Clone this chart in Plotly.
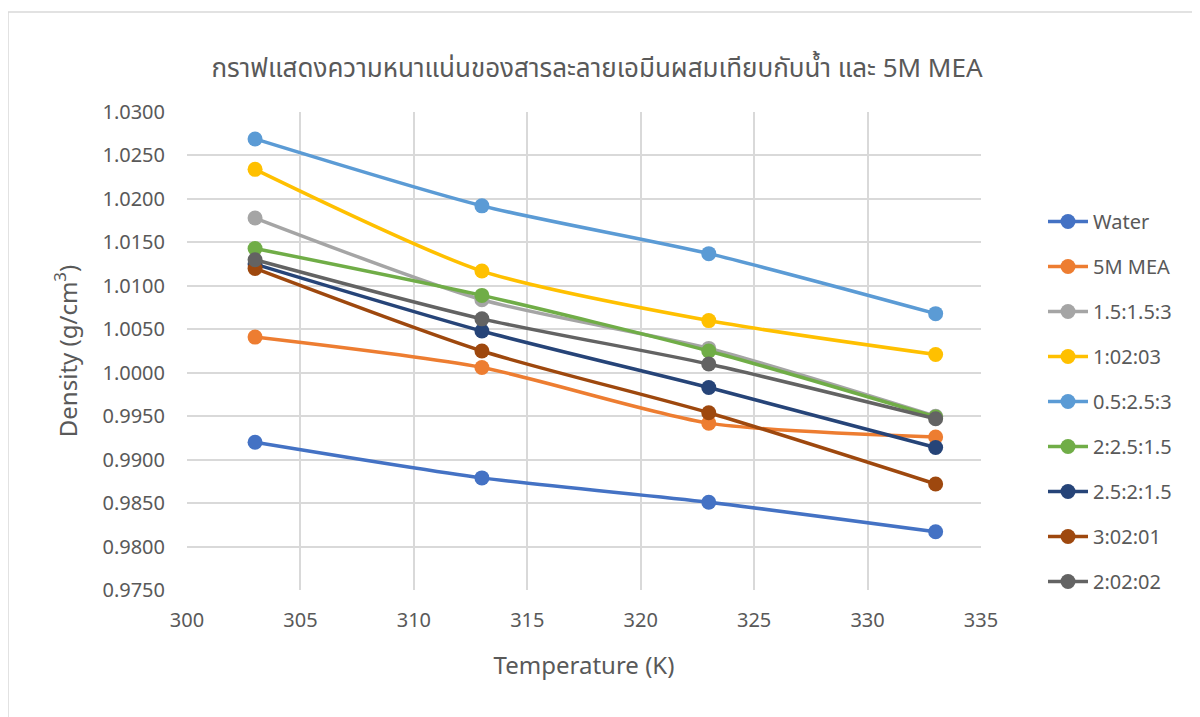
import plotly.graph_objects as go

temperature = [303, 313, 323, 333]

series_names = ["Water", "5M MEA", "1.5:1.5:3", "1:02:03", "0.5:2.5:3",
                "2:2.5:1.5", "2.5:2:1.5", "3:02:01", "2:02:02"]

water = [0.9920, 0.9879, 0.9851, 0.9817]
mea_5m = [1.0041, 1.0006, 0.9942, 0.9926]
r_15_15_3 = [1.0178, 1.0084, 1.0028, 0.9950]
r_1_2_3 = [1.0234, 1.0117, 1.0060, 1.0021]
r_05_25_3 = [1.0269, 1.0192, 1.0137, 1.0068]
r_2_25_15 = [1.0143, 1.0089, 1.0025, 0.9949]
r_25_2_15 = [1.0125, 1.0048, 0.9983, 0.9914]
r_3_2_1 = [1.0120, 1.0025, 0.9954, 0.9872]
r_2_2_2 = [1.0130, 1.0062, 1.0010, 0.9947]

values = [water, mea_5m, r_15_15_3, r_1_2_3, r_05_25_3,
          r_2_25_15, r_25_2_15, r_3_2_1, r_2_2_2]

colors = ["#4472C4", "#ED7D31", "#A5A5A5", "#FFC000", "#5B9BD5",
          "#70AD47", "#264478", "#9E480E", "#636363"]

y_ticks = [0.9750 + 0.005 * i for i in range(12)]

FONT = "Noto Sans, Noto Sans Thai, Leelawadee UI, sans-serif"
TXT = "#595959"

fig = go.Figure()
for name, vals, col in zip(series_names, values, colors):
    fig.add_trace(go.Scatter(
        x=temperature, y=vals, name=name, mode="lines+markers",
        line=dict(color=col, width=3.5, shape="spline", smoothing=0.7),
        marker=dict(color=col, size=15),
        legendgroup=name,
    ))

# page has an 8px body offset; work in page coords then convert
OFF = 8
L, R, T, B = 187 - OFF, 981 - OFF, 112 - OFF, 590 - OFF
W, H = R - L, B - T

def px(xpage):
    return (xpage - OFF - L) / W

def py(ypage):
    return (B - (ypage - OFF)) / H

fig.update_layout(
    width=1200, height=717,
    margin=dict(l=L, r=1200 - R, t=T, b=717 - B),
    paper_bgcolor="white", plot_bgcolor="white",
    font=dict(family=FONT, color=TXT, size=20),
    title=dict(text="กราฟแสดงความหนาแน่นของสารละลายเอมีนผสมเทียบกับน้ำ และ 5M MEA",
               x=(597 - OFF) / 1200, xanchor="center", y=1 - (68 - OFF) / 717, yanchor="middle",
               yref="container", font=dict(size=26, color=TXT, family=FONT)),
    xaxis=dict(range=[300, 335], dtick=5, tick0=300, showgrid=True,
               gridcolor="#d9d9d9", gridwidth=1.5, zeroline=False, showline=False,
               ticks="outside", ticklen=12, tickcolor="rgba(0,0,0,0)",
               tickfont=dict(size=20, color=TXT),
               title=dict(text="Temperature (K)", font=dict(size=24, color=TXT), standoff=25)),
    yaxis=dict(range=[0.9750, 1.0300], tickvals=y_ticks, tickformat=".4f",
               showgrid=True, gridcolor="#d9d9d9", gridwidth=1.5, zeroline=False,
               showline=False, ticks="outside", ticklen=17, tickcolor="rgba(0,0,0,0)",
               tickfont=dict(size=20, color=TXT),
               title=dict(text="Density (g/cm<sup>3</sup>)", font=dict(size=24, color=TXT), standoff=18)),
    legend=dict(x=px(1043), xanchor="left", y=py(202), yanchor="top",
                font=dict(size=20, color=TXT), tracegroupgap=16,
                bgcolor="rgba(0,0,0,0)", itemwidth=40),
    showlegend=True,
)

# outer chart border (top and left visible)
fig.add_shape(type="line", xref="paper", yref="paper",
              x0=px(8), x1=px(1215), y0=py(12), y1=py(12),
              line=dict(color="#d9d9d9", width=1.5))
fig.add_shape(type="line", xref="paper", yref="paper",
              x0=px(8), x1=px(8), y0=py(12), y1=py(735),
              line=dict(color="#d9d9d9", width=1.5))

fig.write_html("out.html")
